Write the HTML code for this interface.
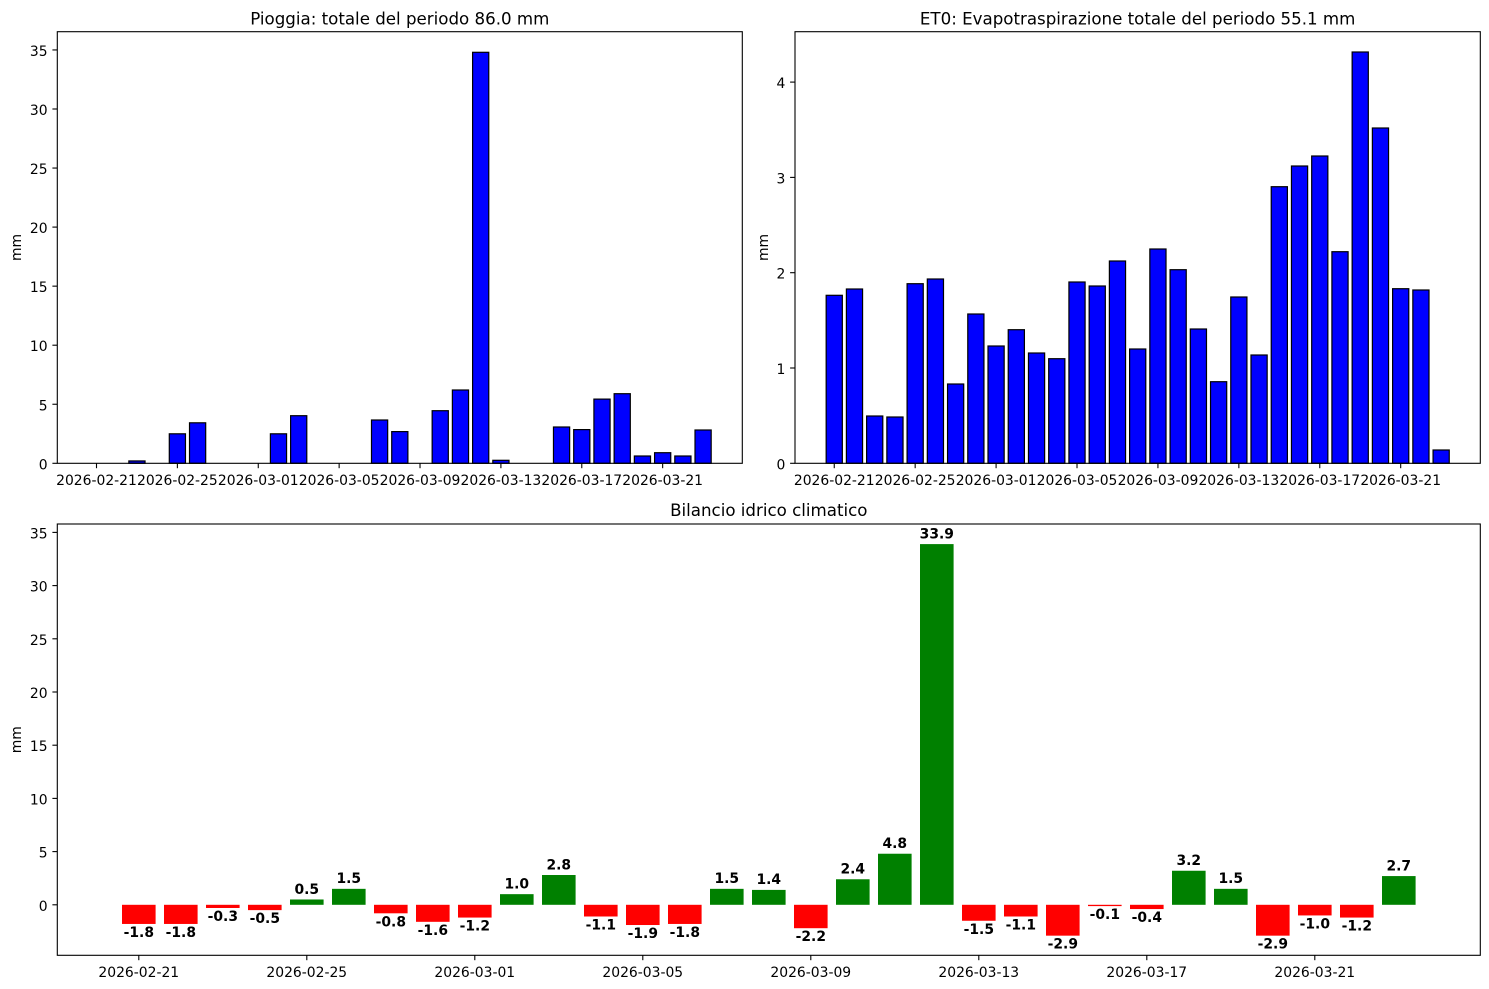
<!DOCTYPE html>
<html><head><meta charset="utf-8"><style>
html,body{margin:0;padding:0;background:#fff;}
svg{display:block;}
text{font-family:"DejaVu Sans","Liberation Sans",sans-serif;fill:#000;}
.t{font-size:13.9px;}
.ti{font-size:16.67px;}
.b{font-size:13.9px;font-weight:bold;}
</style></head><body>
<svg width="1489" height="989" viewBox="0 0 1489 989" xmlns="http://www.w3.org/2000/svg">
<rect x="0" y="0" width="1489" height="989" fill="#fff"/>

<!-- ============ TOP LEFT: Pioggia ============ -->
<g fill="#0000ff" stroke="#000" stroke-width="1.2">
<rect x="128.85" y="460.94" width="16.18" height="2.36"/>
<rect x="169.29" y="433.8" width="16.18" height="29.5"/>
<rect x="189.51" y="422.8" width="16.18" height="40.5"/>
<rect x="270.39" y="433.8" width="16.18" height="29.5"/>
<rect x="290.61" y="415.7" width="16.18" height="47.6"/>
<rect x="371.49" y="420.0" width="16.18" height="43.3"/>
<rect x="391.71" y="431.6" width="16.18" height="31.7"/>
<rect x="432.15" y="410.7" width="16.18" height="52.6"/>
<rect x="452.37" y="390.0" width="16.18" height="73.3"/>
<rect x="472.59" y="52.3" width="16.18" height="411.0"/>
<rect x="492.81" y="460.3" width="16.18" height="3.0"/>
<rect x="553.47" y="427.0" width="16.18" height="36.3"/>
<rect x="573.69" y="429.6" width="16.18" height="33.7"/>
<rect x="593.91" y="399.1" width="16.18" height="64.2"/>
<rect x="614.13" y="393.7" width="16.18" height="69.6"/>
<rect x="634.35" y="456.0" width="16.18" height="7.3"/>
<rect x="654.57" y="452.7" width="16.18" height="10.6"/>
<rect x="674.79" y="456.0" width="16.18" height="7.3"/>
<rect x="695.01" y="430.0" width="16.18" height="33.3"/>
</g>
<rect x="57.3" y="31.7" width="685" height="431.6" fill="none" stroke="#000" stroke-width="1.1"/>
<g stroke="#000" stroke-width="1.1">
<line x1="52.4" y1="463.3" x2="57.3" y2="463.3"/>
<line x1="52.4" y1="404.25" x2="57.3" y2="404.25"/>
<line x1="52.4" y1="345.2" x2="57.3" y2="345.2"/>
<line x1="52.4" y1="286.15" x2="57.3" y2="286.15"/>
<line x1="52.4" y1="227.1" x2="57.3" y2="227.1"/>
<line x1="52.4" y1="168.05" x2="57.3" y2="168.05"/>
<line x1="52.4" y1="109.0" x2="57.3" y2="109.0"/>
<line x1="52.4" y1="49.95" x2="57.3" y2="49.95"/>
<line x1="96.5" y1="463.3" x2="96.5" y2="468.2"/>
<line x1="177.38" y1="463.3" x2="177.38" y2="468.2"/>
<line x1="258.26" y1="463.3" x2="258.26" y2="468.2"/>
<line x1="339.14" y1="463.3" x2="339.14" y2="468.2"/>
<line x1="420.02" y1="463.3" x2="420.02" y2="468.2"/>
<line x1="500.9" y1="463.3" x2="500.9" y2="468.2"/>
<line x1="581.78" y1="463.3" x2="581.78" y2="468.2"/>
<line x1="662.66" y1="463.3" x2="662.66" y2="468.2"/>
</g>
<g class="t" text-anchor="end">
<text x="47.6" y="469.3">0</text>
<text x="47.6" y="410.25">5</text>
<text x="47.6" y="351.2">10</text>
<text x="47.6" y="292.15">15</text>
<text x="47.6" y="233.1">20</text>
<text x="47.6" y="174.05">25</text>
<text x="47.6" y="115.0">30</text>
<text x="47.6" y="55.95">35</text>
</g>
<g class="t" text-anchor="middle">
<text x="96.5" y="484.8">2026-02-21</text>
<text x="177.38" y="484.8">2026-02-25</text>
<text x="258.26" y="484.8">2026-03-01</text>
<text x="339.14" y="484.8">2026-03-05</text>
<text x="420.02" y="484.8">2026-03-09</text>
<text x="500.9" y="484.8">2026-03-13</text>
<text x="581.78" y="484.8">2026-03-17</text>
<text x="662.66" y="484.8">2026-03-21</text>
</g>
<text class="t" text-anchor="middle" transform="translate(21,247.5) rotate(-90)">mm</text>
<text class="ti" x="399.8" y="24.5" text-anchor="middle">Pioggia: totale del periodo 86.0 mm</text>

<!-- ============ TOP RIGHT: ET0 ============ -->
<g fill="#0000ff" stroke="#000" stroke-width="1.2">
<rect x="826.16" y="295.3" width="16.18" height="168.0"/>
<rect x="846.39" y="289.0" width="16.18" height="174.3"/>
<rect x="866.62" y="416.0" width="16.18" height="47.3"/>
<rect x="886.85" y="417.0" width="16.18" height="46.3"/>
<rect x="907.08" y="283.7" width="16.18" height="179.6"/>
<rect x="927.31" y="279.0" width="16.18" height="184.3"/>
<rect x="947.54" y="384.0" width="16.18" height="79.3"/>
<rect x="967.77" y="314.0" width="16.18" height="149.3"/>
<rect x="988.0" y="346.0" width="16.18" height="117.3"/>
<rect x="1008.23" y="329.7" width="16.18" height="133.6"/>
<rect x="1028.46" y="353.0" width="16.18" height="110.3"/>
<rect x="1048.69" y="358.7" width="16.18" height="104.6"/>
<rect x="1068.92" y="282.0" width="16.18" height="181.3"/>
<rect x="1089.15" y="286.0" width="16.18" height="177.3"/>
<rect x="1109.38" y="261.0" width="16.18" height="202.3"/>
<rect x="1129.61" y="349.0" width="16.18" height="114.3"/>
<rect x="1149.84" y="249.0" width="16.18" height="214.3"/>
<rect x="1170.07" y="269.7" width="16.18" height="193.6"/>
<rect x="1190.3" y="329.0" width="16.18" height="134.3"/>
<rect x="1210.53" y="381.7" width="16.18" height="81.6"/>
<rect x="1230.76" y="297.0" width="16.18" height="166.3"/>
<rect x="1250.99" y="355.0" width="16.18" height="108.3"/>
<rect x="1271.22" y="186.7" width="16.18" height="276.6"/>
<rect x="1291.45" y="166.0" width="16.18" height="297.3"/>
<rect x="1311.68" y="156.0" width="16.18" height="307.3"/>
<rect x="1331.91" y="251.7" width="16.18" height="211.6"/>
<rect x="1352.14" y="52.0" width="16.18" height="411.3"/>
<rect x="1372.37" y="128.0" width="16.18" height="335.3"/>
<rect x="1392.6" y="288.7" width="16.18" height="174.6"/>
<rect x="1412.83" y="290.0" width="16.18" height="173.3"/>
<rect x="1433.06" y="450.0" width="16.18" height="13.3"/>
</g>
<rect x="795" y="31.7" width="685.3" height="431.6" fill="none" stroke="#000" stroke-width="1.1"/>
<g stroke="#000" stroke-width="1.1">
<line x1="790.1" y1="463.3" x2="795" y2="463.3"/>
<line x1="790.1" y1="368.0" x2="795" y2="368.0"/>
<line x1="790.1" y1="272.7" x2="795" y2="272.7"/>
<line x1="790.1" y1="177.4" x2="795" y2="177.4"/>
<line x1="790.1" y1="82.1" x2="795" y2="82.1"/>
<line x1="834.25" y1="463.3" x2="834.25" y2="468.2"/>
<line x1="915.17" y1="463.3" x2="915.17" y2="468.2"/>
<line x1="996.09" y1="463.3" x2="996.09" y2="468.2"/>
<line x1="1077.01" y1="463.3" x2="1077.01" y2="468.2"/>
<line x1="1157.93" y1="463.3" x2="1157.93" y2="468.2"/>
<line x1="1238.85" y1="463.3" x2="1238.85" y2="468.2"/>
<line x1="1319.77" y1="463.3" x2="1319.77" y2="468.2"/>
<line x1="1400.69" y1="463.3" x2="1400.69" y2="468.2"/>
</g>
<g class="t" text-anchor="end">
<text x="785.3" y="469.3">0</text>
<text x="785.3" y="374.0">1</text>
<text x="785.3" y="278.7">2</text>
<text x="785.3" y="183.4">3</text>
<text x="785.3" y="88.1">4</text>
</g>
<g class="t" text-anchor="middle">
<text x="834.25" y="484.8">2026-02-21</text>
<text x="915.17" y="484.8">2026-02-25</text>
<text x="996.09" y="484.8">2026-03-01</text>
<text x="1077.01" y="484.8">2026-03-05</text>
<text x="1157.93" y="484.8">2026-03-09</text>
<text x="1238.85" y="484.8">2026-03-13</text>
<text x="1319.77" y="484.8">2026-03-17</text>
<text x="1400.69" y="484.8">2026-03-21</text>
</g>
<text class="t" text-anchor="middle" transform="translate(768,247.5) rotate(-90)">mm</text>
<text class="ti" x="1137.65" y="24.5" text-anchor="middle">ET0: Evapotraspirazione totale del periodo 55.1 mm</text>

<!-- ============ BOTTOM: Bilancio ============ -->
<g>
<rect x="122.0" y="904.8" width="33.6" height="19.15" fill="#ff0000"/>
<rect x="164.0" y="904.8" width="33.6" height="19.15" fill="#ff0000"/>
<rect x="206.0" y="904.8" width="33.6" height="3.19" fill="#ff0000"/>
<rect x="248.0" y="904.8" width="33.6" height="5.32" fill="#ff0000"/>
<rect x="290.0" y="899.48" width="33.6" height="5.32" fill="#008000"/>
<rect x="332.0" y="888.84" width="33.6" height="15.96" fill="#008000"/>
<rect x="374.0" y="904.8" width="33.6" height="8.51" fill="#ff0000"/>
<rect x="416.0" y="904.8" width="33.6" height="17.02" fill="#ff0000"/>
<rect x="458.0" y="904.8" width="33.6" height="12.77" fill="#ff0000"/>
<rect x="500.0" y="894.16" width="33.6" height="10.64" fill="#008000"/>
<rect x="542.0" y="875.01" width="33.6" height="29.79" fill="#008000"/>
<rect x="584.0" y="904.8" width="33.6" height="11.7" fill="#ff0000"/>
<rect x="626.0" y="904.8" width="33.6" height="20.22" fill="#ff0000"/>
<rect x="668.0" y="904.8" width="33.6" height="19.15" fill="#ff0000"/>
<rect x="710.0" y="888.84" width="33.6" height="15.96" fill="#008000"/>
<rect x="752.0" y="889.9" width="33.6" height="14.9" fill="#008000"/>
<rect x="794.0" y="904.8" width="33.6" height="23.41" fill="#ff0000"/>
<rect x="836.0" y="879.26" width="33.6" height="25.54" fill="#008000"/>
<rect x="878.0" y="853.73" width="33.6" height="51.07" fill="#008000"/>
<rect x="920.0" y="544.1" width="33.6" height="360.7" fill="#008000"/>
<rect x="962.0" y="904.8" width="33.6" height="15.96" fill="#ff0000"/>
<rect x="1004.0" y="904.8" width="33.6" height="11.7" fill="#ff0000"/>
<rect x="1046.0" y="904.8" width="33.6" height="30.86" fill="#ff0000"/>
<rect x="1088.0" y="904.8" width="33.6" height="1.3" fill="#ff0000"/>
<rect x="1130.0" y="904.8" width="33.6" height="4.26" fill="#ff0000"/>
<rect x="1172.0" y="870.75" width="33.6" height="34.05" fill="#008000"/>
<rect x="1214.0" y="888.84" width="33.6" height="15.96" fill="#008000"/>
<rect x="1256.0" y="904.8" width="33.6" height="30.86" fill="#ff0000"/>
<rect x="1298.0" y="904.8" width="33.6" height="10.64" fill="#ff0000"/>
<rect x="1340.0" y="904.8" width="33.6" height="12.77" fill="#ff0000"/>
<rect x="1382.0" y="876.07" width="33.6" height="28.73" fill="#008000"/>
</g>
<g class="b" text-anchor="middle">
<text x="138.8" y="936.95">-1.8</text>
<text x="180.8" y="936.95">-1.8</text>
<text x="222.8" y="921.0">-0.3</text>
<text x="264.8" y="923.1">-0.5</text>
<text x="306.8" y="893.8">0.5</text>
<text x="348.8" y="883.1">1.5</text>
<text x="390.8" y="926.3">-0.8</text>
<text x="432.8" y="934.8">-1.6</text>
<text x="474.8" y="930.6">-1.2</text>
<text x="516.8" y="888.5">1.0</text>
<text x="558.8" y="869.3">2.8</text>
<text x="600.8" y="929.5">-1.1</text>
<text x="642.8" y="938.0">-1.9</text>
<text x="684.8" y="936.95">-1.8</text>
<text x="726.8" y="883.1">1.5</text>
<text x="768.8" y="884.2">1.4</text>
<text x="810.8" y="941.2">-2.2</text>
<text x="852.8" y="873.6">2.4</text>
<text x="894.8" y="848.0">4.8</text>
<text x="936.8" y="538.4">33.9</text>
<text x="978.8" y="933.8">-1.5</text>
<text x="1020.8" y="929.5">-1.1</text>
<text x="1062.8" y="948.7">-2.9</text>
<text x="1104.8" y="918.9">-0.1</text>
<text x="1146.8" y="922.1">-0.4</text>
<text x="1188.8" y="865.1">3.2</text>
<text x="1230.8" y="883.1">1.5</text>
<text x="1272.8" y="948.7">-2.9</text>
<text x="1314.8" y="928.4">-1.0</text>
<text x="1356.8" y="930.6">-1.2</text>
<text x="1398.8" y="870.4">2.7</text>
</g>
<rect x="57.3" y="524" width="1423" height="431.3" fill="none" stroke="#000" stroke-width="1.1"/>
<g stroke="#000" stroke-width="1.1">
<line x1="52.4" y1="904.8" x2="57.3" y2="904.8"/>
<line x1="52.4" y1="851.6" x2="57.3" y2="851.6"/>
<line x1="52.4" y1="798.4" x2="57.3" y2="798.4"/>
<line x1="52.4" y1="745.2" x2="57.3" y2="745.2"/>
<line x1="52.4" y1="692.0" x2="57.3" y2="692.0"/>
<line x1="52.4" y1="638.8" x2="57.3" y2="638.8"/>
<line x1="52.4" y1="585.6" x2="57.3" y2="585.6"/>
<line x1="52.4" y1="532.4" x2="57.3" y2="532.4"/>
<line x1="138.8" y1="955.3" x2="138.8" y2="960.2"/>
<line x1="306.8" y1="955.3" x2="306.8" y2="960.2"/>
<line x1="474.8" y1="955.3" x2="474.8" y2="960.2"/>
<line x1="642.8" y1="955.3" x2="642.8" y2="960.2"/>
<line x1="810.8" y1="955.3" x2="810.8" y2="960.2"/>
<line x1="978.8" y1="955.3" x2="978.8" y2="960.2"/>
<line x1="1146.8" y1="955.3" x2="1146.8" y2="960.2"/>
<line x1="1314.8" y1="955.3" x2="1314.8" y2="960.2"/>
</g>
<g class="t" text-anchor="end">
<text x="47.6" y="910.8">0</text>
<text x="47.6" y="857.6">5</text>
<text x="47.6" y="804.4">10</text>
<text x="47.6" y="751.2">15</text>
<text x="47.6" y="698.0">20</text>
<text x="47.6" y="644.8">25</text>
<text x="47.6" y="591.6">30</text>
<text x="47.6" y="538.4">35</text>
</g>
<g class="t" text-anchor="middle">
<text x="138.8" y="976.8">2026-02-21</text>
<text x="306.8" y="976.8">2026-02-25</text>
<text x="474.8" y="976.8">2026-03-01</text>
<text x="642.8" y="976.8">2026-03-05</text>
<text x="810.8" y="976.8">2026-03-09</text>
<text x="978.8" y="976.8">2026-03-13</text>
<text x="1146.8" y="976.8">2026-03-17</text>
<text x="1314.8" y="976.8">2026-03-21</text>
</g>
<text class="t" text-anchor="middle" transform="translate(21,739.7) rotate(-90)">mm</text>
<text class="ti" x="768.8" y="516" text-anchor="middle">Bilancio idrico climatico</text>
</svg>
</body></html>
